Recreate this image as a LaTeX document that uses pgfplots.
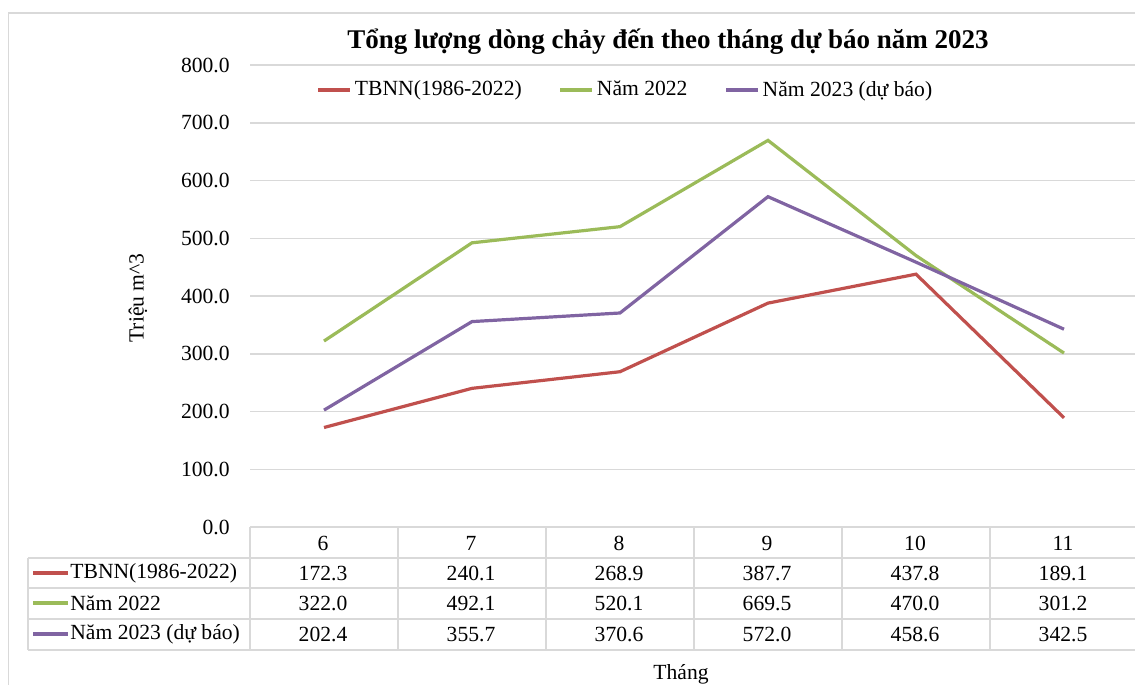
\documentclass[border=0pt]{standalone}
\usepackage{fontspec}
\setmainfont{Liberation Serif}
\usepackage{pgfplots}
\pgfplotsset{compat=1.18}
\usepackage{pgfplotstable}

\definecolor{cRed}{HTML}{C0504D}
\definecolor{cGreen}{HTML}{9BBB59}
\definecolor{cPurple}{HTML}{8064A2}
\definecolor{cGrid}{HTML}{D9D9D9}

% monthly inflow volumes (million m^3)
\pgfplotstableread{
x y
6 172.3
7 240.1
8 268.9
9 387.7
10 437.8
11 189.1
}\tbnn
\pgfplotstableread{
x y
6 322.0
7 492.1
8 520.1
9 669.5
10 470.0
11 301.2
}\namhai
\pgfplotstableread{
x y
6 202.4
7 355.7
8 370.6
9 572.0
10 458.6
11 342.5
}\namba

\newcommand\txt{\fontsize{10.8}{13}\selectfont}

\begin{document}
\begin{tikzpicture}
% outer chart frame
\begin{scope}[x=0.5pt,y=-0.5pt]
  \draw[cGrid, line width=0.75pt] (8.5,13) rectangle (1300,800);
\end{scope}

\begin{axis}[
    at={(125pt,-263.5pt)}, anchor=south west,
    scale only axis, width=444pt, height=231pt,
    xmin=5.5, xmax=11.5, ymin=0, ymax=800,
    xtick=\empty,
    ytick={0,100,...,800},
    ymajorgrids, grid style={cGrid, line width=0.75pt},
    axis line style={draw=none},
    major tick length=0pt,
    clip=false,
    font=\txt,
    yticklabel style={inner sep=0pt, xshift=-10pt,
      /pgf/number format/.cd, fixed, fixed zerofill, precision=1,
      assume math mode=true},
    legend style={at={(0.4223,0.9459)}, anchor=center, draw=none, fill=none,
      font=\txt, inner sep=0pt,
      /tikz/every odd column/.append style={column sep=1pt},
      /tikz/every even column/.append style={column sep=18pt},
      nodes={inner sep=0.5pt}},
    legend columns=3,
    legend image code/.code={\draw[#1] (0pt,0pt) -- (16pt,0pt);},
]
\addplot[cRed, line width=1.6pt] table[x=x, y=y] {\tbnn};
\addlegendentry{TBNN(1986-2022)}
\addplot[cGreen, line width=1.6pt] table[x=x, y=y] {\namhai};
\addlegendentry{Năm 2022}
\addplot[cPurple, line width=1.6pt] table[x=x, y=y] {\namba};
\addlegendentry{Năm 2023 (dự báo)}
\end{axis}

\begin{scope}[x=0.5pt,y=-0.5pt, font=\txt]
  % title
  \node[font=\bfseries\fontsize{13.5}{16}\selectfont] at (668,42)
    {Tổng lượng dòng chảy đến theo tháng dự báo năm 2023};
  % axis titles
  \node[rotate=90] at (138,298) {Triệu m\^{}3};
  \node at (681,674) {Tháng};
  % data table grid
  \foreach \yy in {558,588,619,650}
    \draw[cGrid, line width=0.75pt] (28,\yy) -- (1138,\yy);
  \foreach \xx in {250,398,546,694,842,990,1138}
    \draw[cGrid, line width=0.75pt] (\xx,527) -- (\xx,650);
  \draw[cGrid, line width=0.75pt] (28,558) -- (28,650);
  % header
  \foreach \m [count=\i from 0] in {6,7,8,9,10,11}
    \node at (323+148*\i,543) {\m};
  % row labels with keys
  \draw[cRed, line width=1.6pt] (33,573) -- (68,573);
  \node[anchor=west, inner sep=0pt] at (70,573) {TBNN(1986-2022)};
  \draw[cGreen, line width=1.6pt] (33,603) -- (68,603);
  \node[anchor=west, inner sep=0pt] at (70,603) {Năm 2022};
  \draw[cPurple, line width=1.6pt] (33,634) -- (68,634);
  \node[anchor=west, inner sep=0pt] at (70,634) {Năm 2023 (dự báo)};
  % values
  \foreach \v [count=\i from 0] in {172.3,240.1,268.9,387.7,437.8,189.1}
    \node at (323+148*\i,573) {\v};
  \foreach \v [count=\i from 0] in {322.0,492.1,520.1,669.5,470.0,301.2}
    \node at (323+148*\i,603) {\v};
  \foreach \v [count=\i from 0] in {202.4,355.7,370.6,572.0,458.6,342.5}
    \node at (323+148*\i,634) {\v};
\end{scope}

\pgfresetboundingbox
\useasboundingbox (0pt,0pt) rectangle (567.5pt,-342.5pt);
\end{tikzpicture}
\end{document}
